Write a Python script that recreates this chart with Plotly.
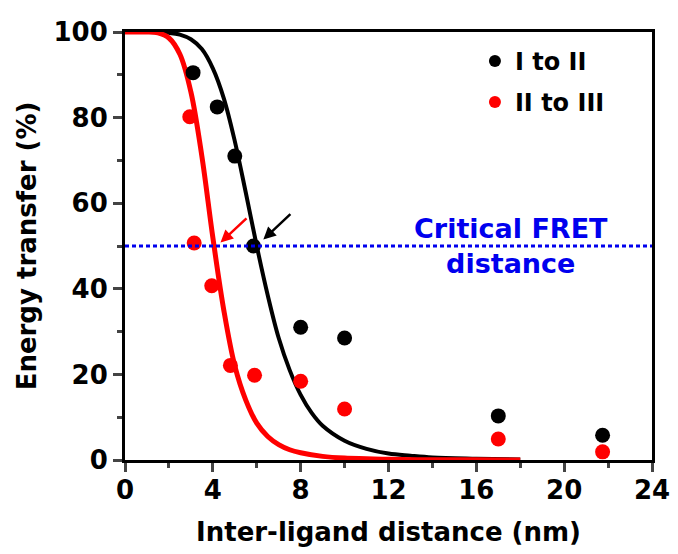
import plotly.graph_objects as go

# ---- data ----
pts1_x = [3.1, 4.2, 5.0, 5.85, 8.0, 10.0, 17.0, 21.75]
pts1_y = [90.5, 82.5, 71.0, 50.0, 31.0, 28.5, 10.3, 5.8]

pts2_x = [2.95, 3.15, 3.95, 4.8, 5.9, 8.0, 10.0, 17.0, 21.75]
pts2_y = [80.2, 50.7, 40.7, 22.1, 19.8, 18.4, 11.9, 4.9, 1.9]

fit1_x = [0, 1, 2, 2.5, 3, 3.5, 4, 4.5, 5, 5.5, 6, 6.5, 7, 7.5, 8, 8.5, 9, 10, 11, 12, 13, 14, 16, 18]
fit1_y = [100, 100, 99.8, 99.4, 98.3, 96, 91.5, 84.5, 74.5, 62.5, 50, 38.5, 28.5, 21, 15.2, 11, 8, 4.5, 2.6, 1.5, 1.0, 0.6, 0.3, 0.1]

fit2_x = [0, 1, 1.5, 2, 2.5, 3, 3.5, 4, 4.5, 5, 5.5, 6, 6.5, 7, 7.5, 8, 9, 10, 11, 12, 14, 16, 18]
fit2_y = [100, 100, 99.8, 98.6, 94.8, 86, 71, 52, 35, 22, 14, 8.6, 5.5, 3.6, 2.4, 1.7, 0.85, 0.45, 0.3, 0.15, 0.06, 0.03, 0.01]

critical_y = 50
x_ticks = [0, 4, 8, 12, 16, 20, 24]
y_ticks = [0, 20, 40, 60, 80, 100]

names = ["I to II", "II to III"]
BLACK = "#000000"
RED = "#ff0000"
BLUE = "#0000ee"
FONT = "DejaVu Sans"

fig = go.Figure()
fig.add_trace(go.Scatter(x=fit1_x, y=fit1_y, mode="lines", line=dict(color=BLACK, width=4, shape="spline"),
                         showlegend=False, hoverinfo="skip"))
fig.add_trace(go.Scatter(x=fit2_x, y=fit2_y, mode="lines", line=dict(color=RED, width=5, shape="spline"),
                         showlegend=False, hoverinfo="skip"))
fig.add_trace(go.Scatter(x=pts1_x, y=pts1_y, mode="markers", name=names[0],
                         marker=dict(color=BLACK, size=15), legend="legend"))
fig.add_trace(go.Scatter(x=pts2_x, y=pts2_y, mode="markers", name=names[1],
                         marker=dict(color=RED, size=15), legend="legend2"))

# critical FRET line
fig.add_shape(type="line", xref="x", yref="y", x0=0, x1=24, y0=critical_y, y1=critical_y,
              line=dict(color=BLUE, width=3, dash="4px,3px"))

fig.add_annotation(x=17.6, y=critical_y, xref="x", yref="y", text="Critical FRET<br>distance",
                   showarrow=False, font=dict(family=FONT, size=27, color=BLUE, weight="bold"),
                   align="center", yanchor="middle")

# arrows
fig.add_annotation(x=4.35, y=50.8, ax=5.6, ay=56.8, xref="x", yref="y", axref="x", ayref="y",
                   text="", showarrow=True, arrowhead=2, arrowsize=1, arrowwidth=2.5, arrowcolor=RED)
fig.add_annotation(x=6.3, y=51.5, ax=7.6, ay=57.8, xref="x", yref="y", axref="x", ayref="y",
                   text="", showarrow=True, arrowhead=2, arrowsize=1, arrowwidth=2.5, arrowcolor=BLACK)

tickfont = dict(family=FONT, size=26, color="black", weight="bold")
titlefont = dict(family=FONT, size=26, color="black", weight="bold")
legfont = dict(family=FONT, size=24, color="black", weight="bold")

fig.update_layout(
    width=678, height=554,
    margin=dict(l=125, r=26, t=32, b=94, autoexpand=False),
    paper_bgcolor="white", plot_bgcolor="white",
    xaxis=dict(range=[0, 24], tickvals=x_ticks, ticks="outside", ticklen=9, tickwidth=3, automargin=False,
               showline=True, linewidth=3, linecolor="black", mirror=True, showgrid=False, zeroline=False,
               tickfont=tickfont, ticklabelstandoff=-4,
               title=dict(text="Inter-ligand distance (nm)", font=titlefont, standoff=19),
               minor=dict(ticks="outside", ticklen=5, tickwidth=3, dtick=2, tick0=0, showgrid=False)),
    yaxis=dict(range=[0, 100], tickvals=y_ticks, ticks="outside", ticklen=9, tickwidth=3, automargin=False,
               showline=True, linewidth=3, linecolor="black", mirror=True, showgrid=False, zeroline=False,
               tickfont=tickfont, title=dict(text="Energy transfer (%)", font=titlefont, standoff=10),
               minor=dict(ticks="outside", ticklen=5, tickwidth=3, dtick=10, tick0=0, showgrid=False)),
    legend=dict(x=0.664, y=0.984, xanchor="left", yanchor="top", font=legfont, itemsizing="constant",
                bgcolor="rgba(0,0,0,0)", borderwidth=0),
    legend2=dict(x=0.664, y=0.888, xanchor="left", yanchor="top", font=legfont, itemsizing="constant",
                 bgcolor="rgba(0,0,0,0)", borderwidth=0),
)

fig.write_html("out.html", config={"displayModeBar": False},
               post_script="document.body.style.margin='0';document.body.style.padding='0';")
